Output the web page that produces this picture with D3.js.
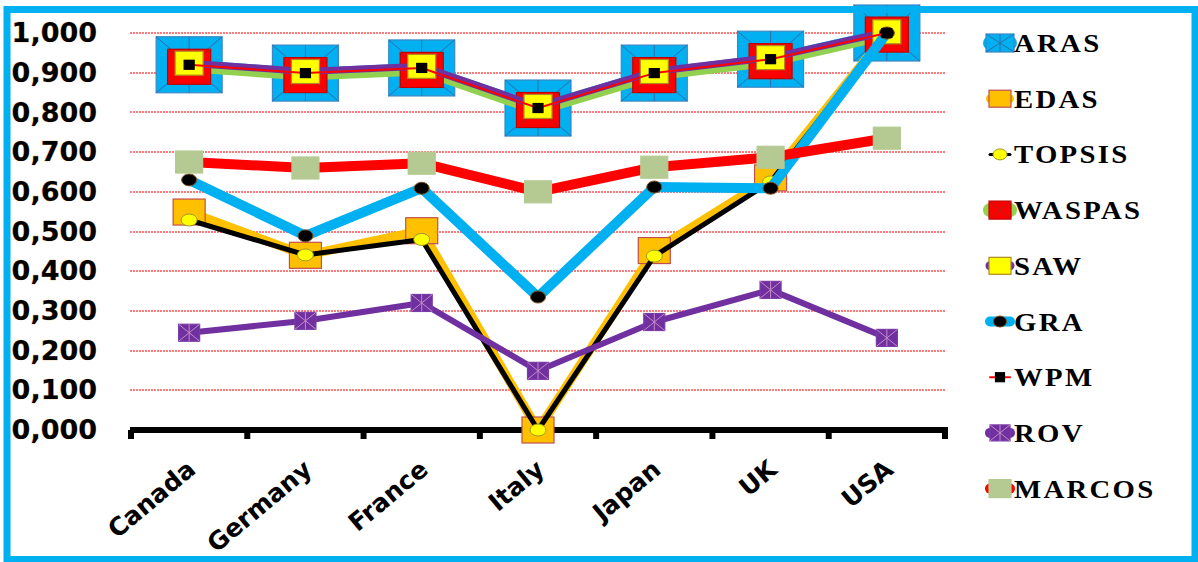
<!DOCTYPE html>
<html>
<head>
<meta charset="utf-8">
<script src="https://cdn.jsdelivr.net/npm/d3@7"></script>
<style>
  body { margin: 0; background: #fff; }
  svg { display: block; }
</style>
</head>
<body>
<div id="chart"></div>
<script>
// data
const categories = ['Canada', 'Germany', 'France', 'Italy', 'Japan', 'UK', 'USA'];
const aras   = [0.920, 0.899, 0.912, 0.811, 0.899, 0.934, 1.000];
const edas   = [0.549, 0.440, 0.502, 0.000, 0.452, 0.635, 1.000];
const topsis = [0.529, 0.441, 0.480, 0.000, 0.438, 0.625, 1.000];
const waspas = [0.915, 0.894, 0.907, 0.806, 0.894, 0.929, 0.996];
const saw    = [0.924, 0.903, 0.916, 0.815, 0.903, 0.938, 1.003];
const gra    = [0.630, 0.489, 0.609, 0.335, 0.612, 0.609, 1.000];
const wpm    = [0.920, 0.899, 0.912, 0.811, 0.899, 0.934, 1.000];
const rov    = [0.245, 0.275, 0.320, 0.149, 0.272, 0.353, 0.232];
const marcos = [0.675, 0.660, 0.672, 0.600, 0.662, 0.687, 0.735];
const yTicks = [0, 0.1, 0.2, 0.3, 0.4, 0.5, 0.6, 0.7, 0.8, 0.9, 1.0];

const width = 1198;
const height = 562;

const series = [
    { name: 'ARAS',   values: aras,   line: '#00b0f0', lw: 10, shape: 'star',    w: 66, h: 56, fill: '#00b0f0', stroke: '#3b88c4', mark: '#2f6fae', lgw: 28, lgh: 18, lglw: 14 },
    { name: 'EDAS',   values: edas,   line: '#ffc000', lw: 9,  shape: 'rect',    w: 32, h: 26, fill: '#ffc000', stroke: '#c0504d', lgw: 22, lgh: 17, lglw: 8 },
    { name: 'TOPSIS', values: topsis, line: '#000000', lw: 5,  shape: 'ellipse', w: 16, h: 12, fill: '#ffff00', stroke: '#9c9c20', lgw: 14, lgh: 11, lglw: 3 },
    { name: 'WASPAS', values: waspas, line: '#92d050', lw: 11, shape: 'x',       w: 43, h: 35, fill: '#ff0000', stroke: '#c00000', mark: '#b02020', lgw: 22, lgh: 18, lglw: 14 },
    { name: 'SAW',    values: saw,    line: '#7030a0', lw: 7,  shape: 'rect',    w: 28, h: 24, fill: '#ffff00', stroke: '#b08a20', lgw: 22, lgh: 17, lglw: 9 },
    { name: 'GRA',    values: gra,    line: '#00b0f0', lw: 10, shape: 'ellipse', w: 15, h: 12, fill: '#000000', stroke: '#7f4f1f', lgw: 13, lgh: 11, lglw: 10 },
    { name: 'WPM',    values: wpm,    line: '#ff0000', lw: 2,  shape: 'rect',    w: 10, h: 9,  fill: '#000000', stroke: '#000000', lgw: 9, lgh: 9, lglw: 2 },
    { name: 'ROV',    values: rov,    line: '#7030a0', lw: 6,  shape: 'star',    w: 21, h: 17, fill: '#7030a0', stroke: '#7a3aa8', mark: '#c58ac8', lgw: 20, lgh: 16, lglw: 10 },
    { name: 'MARCOS', values: marcos, line: '#ff0000', lw: 10, shape: 'rect',    w: 27, h: 22, fill: '#b5ca92', stroke: '#b5ca92', lgw: 22, lgh: 18, lglw: 10 }
];

const svg = d3.select('#chart').append('svg')
    .attr('width', width)
    .attr('height', height);

svg.append('rect')
    .attr('width', width)
    .attr('height', height)
    .attr('fill', '#fff');

const x = d3.scaleBand().domain(categories).range([131, 945]);
const y = d3.scaleLinear().domain([0, 1]).range([430, 33]);
const cx = c => x(c) + x.bandwidth() / 2;

// gridlines: light red fine dots, snapped to whole pixels
svg.append('g')
    .selectAll('line')
    .data(yTicks.filter(d => d > 0))
    .enter().append('line')
    .attr('x1', 130)
    .attr('x2', 945)
    .attr('y1', d => Math.round(y(d)))
    .attr('y2', d => Math.round(y(d)))
    .attr('stroke', '#ff7a7a')
    .attr('stroke-width', 2)
    .attr('stroke-dasharray', '2,1');

// y axis labels
const yAxis = svg.append('g')
    .attr('transform', 'translate(97,0)')
    .call(d3.axisLeft(y).tickValues(yTicks).tickSize(0).tickPadding(0)
        .tickFormat(d => d3.format('.3f')(d).replace('.', ',')));
yAxis.select('.domain').remove();
yAxis.selectAll('text')
    .attr('font-family', '"DejaVu Sans", Verdana, sans-serif')
    .attr('font-weight', 'bold')
    .attr('font-size', '27px')
    .attr('fill', '#000')
    .attr('stroke', '#e9b070')
    .attr('stroke-width', 0.6)
    .attr('paint-order', 'stroke');

// x axis
const bounds = categories.map(c => x(c)).concat([x.range()[1]]);
svg.append('line')
    .attr('x1', 130)
    .attr('x2', 948)
    .attr('y1', y(0))
    .attr('y2', y(0))
    .attr('stroke', '#000')
    .attr('stroke-width', 6);
svg.append('g')
    .selectAll('line')
    .data(bounds)
    .enter().append('line')
    .attr('x1', d => d)
    .attr('x2', d => d)
    .attr('y1', y(0))
    .attr('y2', y(0) + 9)
    .attr('stroke', '#000')
    .attr('stroke-width', 6);

svg.append('g')
    .selectAll('text')
    .data(categories)
    .enter().append('text')
    .attr('transform', d => `translate(${cx(d) + 8}, ${y(0) + 42}) rotate(-40)`)
    .attr('text-anchor', 'end')
    .attr('font-family', '"DejaVu Sans", Verdana, sans-serif')
    .attr('font-weight', 'bold')
    .attr('font-size', '25px')
    .attr('fill', '#000')
    .text(d => d);

function drawMarker (g, s, w, h) {
    if (s.shape === 'ellipse') {
        g.append('ellipse')
            .attr('rx', w / 2)
            .attr('ry', h / 2)
            .attr('fill', s.fill)
            .attr('stroke', s.stroke)
            .attr('stroke-width', 1);
        return;
    }
    g.append('rect')
        .attr('x', -w / 2)
        .attr('y', -h / 2)
        .attr('width', w)
        .attr('height', h)
        .attr('fill', s.fill)
        .attr('stroke', s.stroke)
        .attr('stroke-width', 1.2);
    if (s.shape === 'star' || s.shape === 'x') {
        const segs = [[-w / 2, -h / 2, w / 2, h / 2], [w / 2, -h / 2, -w / 2, h / 2]];
        if (s.shape === 'star') segs.push([0, -h / 2, 0, h / 2]);
        g.selectAll('.seg')
            .data(segs)
            .enter().append('line')
            .attr('x1', d => d[0])
            .attr('y1', d => d[1])
            .attr('x2', d => d[2])
            .attr('y2', d => d[3])
            .attr('stroke', s.mark)
            .attr('stroke-width', 1);
    }
}

const line = d3.line()
    .x((d, i) => cx(categories[i]))
    .y(d => y(d));

const plot = svg.append('g');
series.forEach(s => {
    const g = plot.append('g');
    g.append('path')
        .attr('d', line(s.values))
        .attr('fill', 'none')
        .attr('stroke', s.line)
        .attr('stroke-width', s.lw)
        .attr('stroke-linejoin', 'round');
    s.values.forEach((v, i) => {
        const m = g.append('g')
            .attr('transform', `translate(${cx(categories[i])}, ${y(v)})`);
        drawMarker(m, s, s.w, s.h);
    });
});

// legend
const legend = svg.append('g');
series.forEach((s, i) => {
    const ly = 43 + i * 55.7;
    const g = legend.append('g').attr('transform', `translate(1000, ${ly})`);
    g.append('line')
        .attr('x1', -10)
        .attr('x2', 10)
        .attr('stroke', s.line)
        .attr('stroke-width', s.lglw)
        .attr('stroke-linecap', 'round');
    drawMarker(g, s, s.lgw, s.lgh);
    legend.append('text')
        .attr('transform', `translate(1014, ${ly + 9}) scale(1.15, 1)`)
        .attr('font-family', '"Liberation Serif", "Times New Roman", serif')
        .attr('font-weight', 'bold')
        .attr('font-size', '25px')
        .attr('letter-spacing', '2px')
        .attr('fill', '#000')
        .text(s.name);
});

// outer frame
svg.append('rect')
    .attr('x', 7)
    .attr('y', 9.5)
    .attr('width', 1188)
    .attr('height', 550)
    .attr('fill', 'none')
    .attr('stroke', '#00b0f0')
    .attr('stroke-width', 7);
</script>
</body>
</html>
